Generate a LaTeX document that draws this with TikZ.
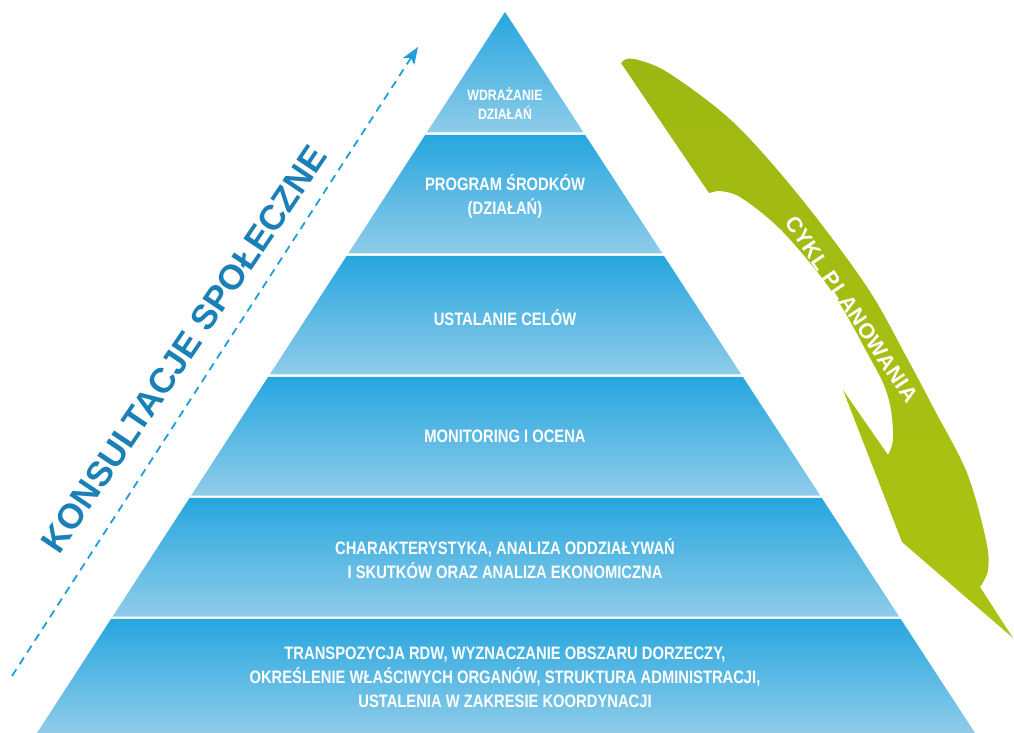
\documentclass[tikz,border=0pt]{standalone}
\usepackage{fontspec}
\setmainfont{Liberation Sans}
\newfontfamily\condf{Liberation Sans}[FakeStretch=0.82]
\newfontfamily\cyklf{Liberation Sans}[LetterSpace=3.0]
\usetikzlibrary{calc,arrows.meta}
\definecolor{ptop}{HTML}{26A6DF}
\definecolor{pbot}{HTML}{8FCCE9}
\definecolor{ktext}{HTML}{1A80B6}
\definecolor{karrow}{HTML}{1E9FDA}
\definecolor{gtop}{HTML}{9EB813}
\definecolor{gbot}{HTML}{ABC412}
\tikzset{
  layertext/.style={text=white, align=center, inner sep=0pt,
    font=\condf\bfseries\fontsize{18}{24}\selectfont},
  toptext/.style={layertext, font=\condf\bfseries\fontsize{15}{19}\selectfont},
  layerfill/.style={top color=ptop, bottom color=pbot, draw=none},
  konsult/.style={text=ktext, inner sep=0pt, font=\bfseries\fontsize{35}{35}\selectfont},
  cyklstyle/.style={text=white, inner sep=0pt, font=\cyklf\bfseries\fontsize{21.5}{22}\selectfont},
  consarrow/.style={draw=karrow, line width=1.8pt, dash pattern=on 8pt off 6pt,
    -{Stealth[length=17pt,width=13pt,inset=4pt]}},
  greenband/.style={top color=gtop, bottom color=gbot, draw=none}
}
\begin{document}
\begin{tikzpicture}[x=1pt,y=-1pt]
\useasboundingbox (0,0) rectangle (1014,733);
\fill[white] (0,0) rectangle (1014,733);
% pyramid
\coordinate (A) at (505,12);
\coordinate (BL) at (37,733);
\coordinate (BR) at (975,733);
\foreach \yt/\yb in {12/132.5, 134.8/253.5, 255.8/374.5, 376.8/495.5, 497.8/616.5, 618.8/733}{
  \pgfmathsetmacro\ta{(\yt-12)/721}
  \pgfmathsetmacro\tb{(\yb-12)/721}
  \shade[layerfill] ($(A)!\ta!(BL)$) -- ($(A)!\tb!(BL)$) -- ($(A)!\tb!(BR)$) -- ($(A)!\ta!(BR)$) -- cycle;
}
\node[toptext] (l1) at (505,104) {WDRAŻANIE\\DZIAŁAŃ};
\node[layertext] (l2) at (505,196) {PROGRAM ŚRODKÓW\\(DZIAŁAŃ)};
\node[layertext] (l3) at (505,318) {USTALANIE CELÓW};
\node[layertext] (l4) at (505,436) {MONITORING I OCENA};
\node[layertext] (l5) at (505,559) {CHARAKTERYSTYKA, ANALIZA ODDZIAŁYWAŃ\\I SKUTKÓW ORAZ ANALIZA EKONOMICZNA};
\node[layertext] (l6) at (505,677) {TRANSPOZYCJA RDW, WYZNACZANIE OBSZARU DORZECZY,\\OKREŚLENIE WŁAŚCIWYCH ORGANÓW, STRUKTURA ADMINISTRACJI,\\USTALENIA W ZAKRESIE KOORDYNACJI};
% consultation arrow
\coordinate (ks) at (12,676);
\coordinate (ke) at (418,47);
\draw[consarrow] (ks) -- (ke);
\node[konsult, rotate=56] (kons) at (184,349) {KONSULTACJE SPOŁECZNE};
% green planning cycle band
\shade[greenband] (621,63) .. controls (624,59) and (628,58) .. (634,59)
  -- plot[smooth, tension=0.55] coordinates {(634,59) (667,72) (733,122) (800,197) (867,287) (907,358) (933,407) (967,473) (986,540) (988,570) (980,587)}
  -- (1013,638) -- (902,542) -- (843,390) -- (888,455)
  -- plot[smooth, tension=0.55] coordinates {(888,455) (893,440) (891,410) (884,385) (870,358) (833,293) (783,232) (740,197) (717,191)}
  -- (709,193) -- cycle;
\node[cyklstyle, rotate=-56] (cykl) at (852,309) {CYKL PLANOWANIA};
\end{tikzpicture}
\end{document}
